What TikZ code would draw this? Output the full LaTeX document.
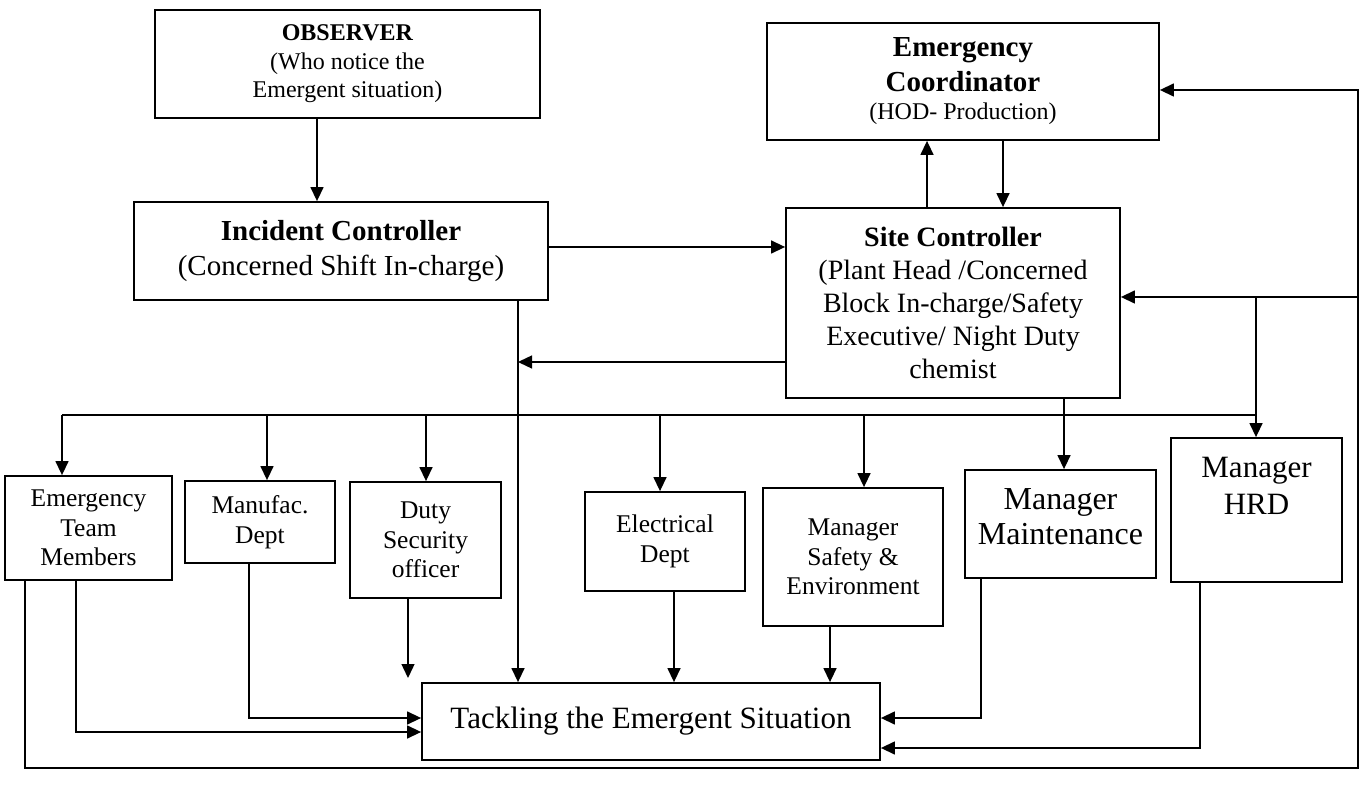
\documentclass[tikz,border=0pt]{standalone}
\usepackage{fontspec}
\setmainfont{Liberation Serif}
\usetikzlibrary{arrows.meta,calc}
\begin{document}
\begin{tikzpicture}[x=1pt,y=-1pt,
  box/.style={draw, line width=1.8pt, rectangle, inner sep=0pt, align=center},
  lbl/.style={inner sep=0pt, align=center},
  small/.style={font=\fontsize{25.5}{29.5}\selectfont},
  conn/.style={line width=1.4pt},
  arr/.style={conn, -{Triangle[length=14pt,width=13pt]}}]
\useasboundingbox (0,0) rectangle (1363,791);

% top boxes
\node[box, minimum width=385pt, minimum height=108pt, font=\fontsize{24}{28.5}\selectfont] (obs) at (347.5,64)
  {\textbf{OBSERVER}\\(Who notice the\\Emergent situation)};
\node[box, minimum width=414pt, minimum height=98pt, font=\fontsize{29}{35}\selectfont] (ic) at (341,251)
  {\textbf{Incident Controller}\\(Concerned Shift In-charge)};
\node[box, minimum width=392pt, minimum height=117pt, font=\fontsize{29}{35}\selectfont] (ec) at (963,81.5)
  {\textbf{Emergency}\\\textbf{Coordinator}\\[-7pt]{\fontsize{24}{28}\selectfont (HOD- Production)}};
\node[box, minimum width=334pt, minimum height=190pt, font=\fontsize{28}{33}\selectfont] (sc) at (953,303)
  {\textbf{Site Controller}\\(Plant Head /Concerned\\Block In-charge/Safety\\Executive/ Night Duty\\chemist};

% bottom row
\node[box, small, minimum width=167pt, minimum height=104pt] (et) at (88.5,528) {Emergency\\Team\\Members};
\node[box, small, minimum width=150pt, minimum height=82pt] (mf) at (260,522) {Manufac.\\Dept};
\node[box, small, minimum width=151pt, minimum height=116pt] (ds) at (425.5,540) {Duty\\Security\\officer};
\node[box, small, minimum width=160pt, minimum height=99pt] (el) at (665,541.5) {Electrical\\Dept};
\node[box, small, minimum width=180pt, minimum height=138pt] (ms) at (853,557) {Manager\\Safety \&\\Environment};
\node[box, minimum width=191pt, minimum height=108pt] (mm) at (1060.5,524) {};
\node[lbl, font=\fontsize{32}{35}\selectfont] (mmt) at (1060.5,517) {Manager\\Maintenance};
\node[box, minimum width=171pt, minimum height=144pt] (hrd) at (1256.5,510) {};
\node[lbl, font=\fontsize{31}{37}\selectfont] (hrdt) at (1256.5,486) {Manager\\HRD};
\node[box, minimum width=458pt, minimum height=77pt, font=\fontsize{31}{35}\selectfont] (tk) at (651,721.5)
  {Tackling the Emergent Situation};

% helper coordinates
\coordinate (x317) at (317,0);
\coordinate (x927) at (927,0);
\coordinate (x1003) at (1003,0);
\coordinate (x518) at (518,0);
\coordinate (x1064) at (1064,0);
\coordinate (y247) at (0,247);
\coordinate (j1) at (518,362);
\coordinate (rb) at (1358,768);
\coordinate (rt) at (1358,90);
\coordinate (rm) at (1358,297);
\coordinate (hb) at (1256,297);
\coordinate (lx) at (25,0);
\coordinate (dl) at (62,415);
\coordinate (dr) at (1256,415);
\coordinate (d2) at (267,415);
\coordinate (d3) at (426,415);
\coordinate (d4) at (660,415);
\coordinate (d5) at (864,415);
\coordinate (dsend) at (408,678);
\coordinate (x408) at (408,0);
\coordinate (x674) at (674,0);
\coordinate (x830) at (830,0);
\coordinate (p1) at (249,718);
\coordinate (p2) at (76,732);
\coordinate (p3) at (981,718);
\coordinate (p4) at (1200,748);

% connectors top
\draw[arr] (obs.south -| x317) -- (ic.north -| x317);
\draw[arr] (ic.east |- y247) -- (sc.west |- y247);
\draw[arr] (sc.north -| x927) -- (ec.south -| x927);
\draw[arr] (ec.south -| x1003) -- (sc.north -| x1003);
\draw[arr] (sc.west |- j1) -- (j1);
\draw[arr] (ic.south -| x518) -- (tk.north -| x518);
\draw[arr] (sc.south -| x1064) -- (mm.north -| x1064);

% right feedback loop
\draw[arr] (et.south -| lx) |- (rb) -- (rt) -- (ec.east |- rt);
\draw[arr] (rm) -- (sc.east |- rm);
\draw[arr] (hb) -- (hrd.north -| hb);

% distribution line
\draw[conn] (dl) -- (dr);
\draw[arr] (dl) -- (et.north -| dl);
\draw[arr] (d2) -- (mf.north -| d2);
\draw[arr] (d3) -- (ds.north -| d3);
\draw[arr] (d4) -- (el.north -| d4);
\draw[arr] (d5) -- (ms.north -| d5);

% into tackling box
\draw[arr] (ds.south -| x408) -- (dsend);
\draw[arr] (el.south -| x674) -- (tk.north -| x674);
\draw[arr] (ms.south -| x830) -- (tk.north -| x830);
\draw[arr] (mf.south -| p1) |- (tk.west |- p1);
\draw[arr] (et.south -| p2) |- (tk.west |- p2);
\draw[arr] (mm.south -| p3) |- (tk.east |- p3);
\draw[arr] (hrd.south -| p4) |- (tk.east |- p4);
\end{tikzpicture}
\end{document}
